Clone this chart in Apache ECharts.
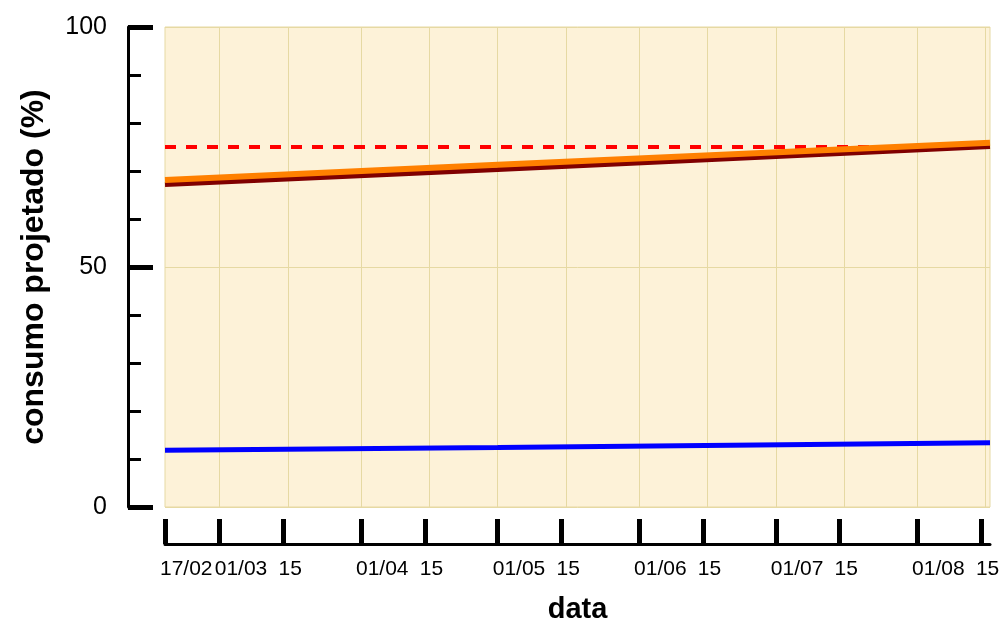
<!DOCTYPE html>
<html>
<head>
<meta charset="utf-8">
<script src="https://cdn.jsdelivr.net/npm/echarts@6/dist/echarts.min.js"></script>
<style>
html,body{margin:0;padding:0;background:#fff;}
#chart{width:1004px;height:624px;}
</style>
</head>
<body>
<div id="chart"></div>
<script>
// ---- data ----
const startDate = [2023, 1, 17];   // 17/02
const endDate = [2023, 7, 17];     // 17/08 (right edge of plot)
const tickDates = [[2023,1,17],[2023,2,1],[2023,2,15],[2023,3,1],[2023,3,15],[2023,4,1],[2023,4,15],[2023,5,1],[2023,5,15],[2023,6,1],[2023,6,15],[2023,7,1],[2023,7,15]];
const tickLabels = ['17/02','01/03','15','01/04','15','01/05','15','01/06','15','01/07','15','01/08','15'];
const gridDates = [[2023,2,1],[2023,2,16],[2023,3,1],[2023,3,16],[2023,4,1],[2023,4,16],[2023,5,1],[2023,5,16],[2023,6,1],[2023,6,16],[2023,7,1],[2023,7,16]];
const sampleDates = [[2023,1,17],[2023,4,1],[2023,7,17]];
const orangeValues = [68.1, 71.3, 75.9];
const maroonValues = [67.2, 70.3, 75.1];
const blueValues = [11.8, 12.4, 13.4];
const limitDates = [[2023,1,17],[2023,7,17]];
const limitValues = [75, 75];
const yTitle = 'consumo projetado (%)';
const xTitle = 'data';

// ---- build ----
const DAY = 86400000;
const day = d => Math.round((Date.UTC(d[0], d[1], d[2]) - Date.UTC(startDate[0], startDate[1], startDate[2])) / DAY);
const tickDays = tickDates.map(day);
const gridDays = gridDates.map(day);
const pairs = (dates, vals) => dates.map((d, i) => [day(d), vals[i]]);
const FONT = "'Liberation Sans', Arial, sans-serif";
const gridLineColor = '#e6d9a3';

const chart = echarts.init(document.getElementById('chart'), null, {renderer: 'canvas'});
chart.setOption({
  animation: false,
  backgroundColor: '#ffffff',
  grid: {
    left: 165, right: 14, top: 27, bottom: 117,
    outerBoundsMode: 'none', containLabel: false,
    show: true, backgroundColor: '#fdf2d8', borderColor: gridLineColor, borderWidth: 1
  },
  xAxis: [{
    type: 'value',
    min: day(startDate), max: day(endDate),
    position: 'bottom',
    offset: 37,
    name: xTitle,
    nameLocation: 'middle',
    nameGap: 51,
    nameTextStyle: {fontFamily: FONT, fontSize: 29, fontWeight: 'bold', color: '#000'},
    axisLine: {show: true, onZero: false, lineStyle: {color: '#000', width: 3}},
    axisTick: {show: true, inside: true, length: 25, lineStyle: {color: '#000', width: 5}, customValues: tickDays},
    axisLabel: {
      show: true, customValues: tickDays, margin: 15, align: 'left',
      padding: [0, 0, 0, -5],
      fontFamily: FONT, fontSize: 21, color: '#000',
      hideOverlap: false,
      formatter: v => { const i = tickDays.indexOf(v); return i >= 0 ? tickLabels[i] : ''; }
    },
    splitLine: {show: false}
  }, {
    type: 'value',
    min: day(startDate), max: day(endDate),
    position: 'bottom',
    axisLine: {show: false, onZero: false},
    axisTick: {show: false, customValues: gridDays},
    axisLabel: {show: false, customValues: gridDays},
    splitLine: {show: true, lineStyle: {color: gridLineColor, width: 1}}
  }],
  yAxis: {
    type: 'value',
    min: 0, max: 100, interval: 50,
    offset: 37,
    name: yTitle,
    nameLocation: 'middle',
    nameGap: 78,
    nameTextStyle: {fontFamily: FONT, fontSize: 32, fontWeight: 'bold', color: '#000'},
    axisLine: {show: true, onZero: false, lineStyle: {color: '#000', width: 3}},
    axisTick: {show: true, inside: true, length: 25, lineStyle: {color: '#000', width: 5}},
    minorTick: {show: true, splitNumber: 5, length: 13, lineStyle: {color: '#000', width: 3}},
    axisLabel: {margin: 21, fontFamily: FONT, fontSize: 25, color: '#000'},
    splitLine: {show: true, lineStyle: {color: gridLineColor, width: 1}}
  },
  series: [{
    type: 'line', name: 'limite', xAxisIndex: 0, showSymbol: false, symbol: 'none',
    data: pairs(limitDates, limitValues),
    lineStyle: {color: '#ff0000', width: 4, type: [11, 10]}, z: 2
  }, {
    type: 'line', name: 'projetado', xAxisIndex: 0, showSymbol: false, symbol: 'none',
    data: pairs(sampleDates, maroonValues),
    lineStyle: {color: '#800000', width: 5}, z: 3
  }, {
    type: 'line', name: 'consumo', xAxisIndex: 0, showSymbol: false, symbol: 'none',
    data: pairs(sampleDates, orangeValues),
    lineStyle: {color: '#ff8000', width: 6}, z: 4
  }, {
    type: 'line', name: 'base', xAxisIndex: 0, showSymbol: false, symbol: 'none',
    data: pairs(sampleDates, blueValues),
    lineStyle: {color: '#0000ff', width: 5}, z: 3
  }]
});
</script>
</body>
</html>
